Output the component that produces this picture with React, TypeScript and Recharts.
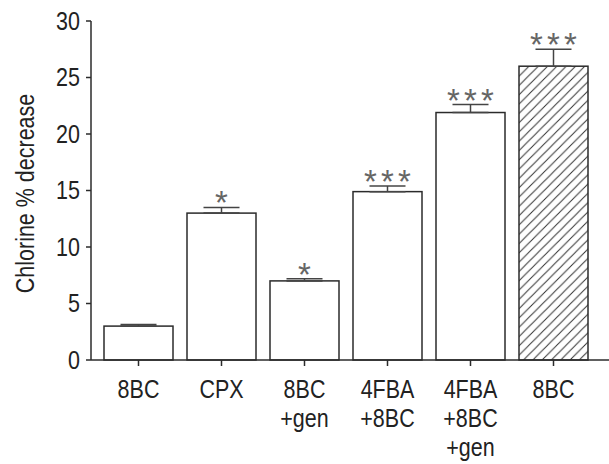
import React from 'react';
import { BarChart, Bar, XAxis, YAxis, ErrorBar } from 'recharts';

const categories = ['8BC', 'CPX', '8BC\n+gen', '4FBA\n+8BC', '4FBA\n+8BC\n+gen', '8BC'];
const values = [3, 13, 7, 14.9, 21.9, 26];
const errors = [0.15, 0.5, 0.2, 0.5, 0.7, 1.5];
const stars = [0, 1, 1, 3, 3, 3];
const hatched = [false, false, false, false, false, true];
const yTicks = [0, 5, 10, 15, 20, 25, 30];

const data = categories.map((name, i) => ({
  name,
  value: values[i],
  err: [0, errors[i]],
  errTop: errors[i],
  stars: stars[i],
  hatched: hatched[i],
}));

const FONT = '"Liberation Sans", Arial, sans-serif';
const INK = '#2b2b2b';
const SQUEEZE = 0.86;

const BarShape = (props: any) => {
  const { x, y, width, height, payload } = props;
  const perUnit = payload.value ? height / payload.value : 0;
  const capY = y - payload.errTop * perUnit;
  const cx = x + width / 2;
  const marks = Array.from({ length: payload.stars }, (_, k) => cx + (k - (payload.stars - 1) / 2) * 17);
  return (
    <g>
      <rect
        x={x}
        y={y}
        width={width}
        height={height}
        fill={payload.hatched ? 'url(#hatch)' : '#fff'}
        stroke={INK}
        strokeWidth={1.5}
      />
      {marks.map((sx, k) => (
        <text key={k} x={sx} y={capY + 7} textAnchor="middle" fontFamily={FONT} fontSize={33} fill="#666">
          *
        </text>
      ))}
    </g>
  );
};

const XTick = (props: any) => {
  const { x, y, payload } = props;
  const lines = String(payload.value).split('\n');
  return (
    <g transform={`translate(${x},${y}) scale(${SQUEEZE},1)`}>
      <text x={0} y={0} textAnchor="middle" fontFamily={FONT} fontSize={25} fill="#222">
        {lines.map((l, i) => (
          <tspan key={i} x={0} dy={i === 0 ? 30 : 29}>
            {l}
          </tspan>
        ))}
      </text>
    </g>
  );
};

const YTick = (props: any) => {
  const { x, y, payload } = props;
  return (
    <g transform={`translate(${x},${y}) scale(${SQUEEZE},1)`}>
      <text x={0} y={0} textAnchor="end" dominantBaseline="central" fontFamily={FONT} fontSize={25} fill="#222">
        {payload.value}
      </text>
    </g>
  );
};

const YLabel = (props: any) => {
  const { viewBox } = props;
  const cx = 25;
  const cy = viewBox.y + viewBox.height / 2 + 3;
  return (
    <g transform={`translate(${cx},${cy}) rotate(-90) scale(${SQUEEZE},1)`}>
      <text
        x={0}
        y={0}
        textAnchor="middle"
        dominantBaseline="central"
        fontFamily={FONT}
        fontSize={25}
        fill="#222"
      >
        Chlorine % decrease
      </text>
    </g>
  );
};

export default function App() {
  return (
    <div style={{ position: 'absolute', left: 0, top: 0, background: '#fff' }}>
      <BarChart
        width={609}
        height={464}
        data={data}
        margin={{ top: 21, right: 0, bottom: 0, left: 0 }}
        barSize={69}
      >
        <defs>
          <pattern id="hatch" patternUnits="userSpaceOnUse" width={9.3} height={9.3}>
            <rect width={9.3} height={9.3} fill="#fff" />
            <path
              d="M-2.325,2.325 l4.65,-4.65 M0,9.3 l9.3,-9.3 M6.975,11.625 l4.65,-4.65"
              stroke="#333"
              strokeWidth={1}
            />
          </pattern>
        </defs>
        <XAxis
          dataKey="name"
          axisLine={{ stroke: INK, strokeWidth: 1.5 }}
          tickLine={{ stroke: INK, strokeWidth: 1.5 }}
          tickSize={6}
          height={104}
          padding={{ left: 6, right: 14 }}
          tick={<XTick />}
          interval={0}
        />
        <YAxis
          width={91}
          domain={[0, 30]}
          ticks={yTicks}
          axisLine={{ stroke: INK, strokeWidth: 1.5 }}
          tickLine={{ stroke: INK, strokeWidth: 1.5 }}
          tickSize={5}
          tickMargin={6}
          tick={<YTick />}
          label={<YLabel />}
        />
        <Bar dataKey="value" shape={<BarShape />} isAnimationActive={false}>
          <ErrorBar dataKey="err" width={18} stroke="#444" strokeWidth={1.5} direction="y" />
        </Bar>
      </BarChart>
    </div>
  );
}
